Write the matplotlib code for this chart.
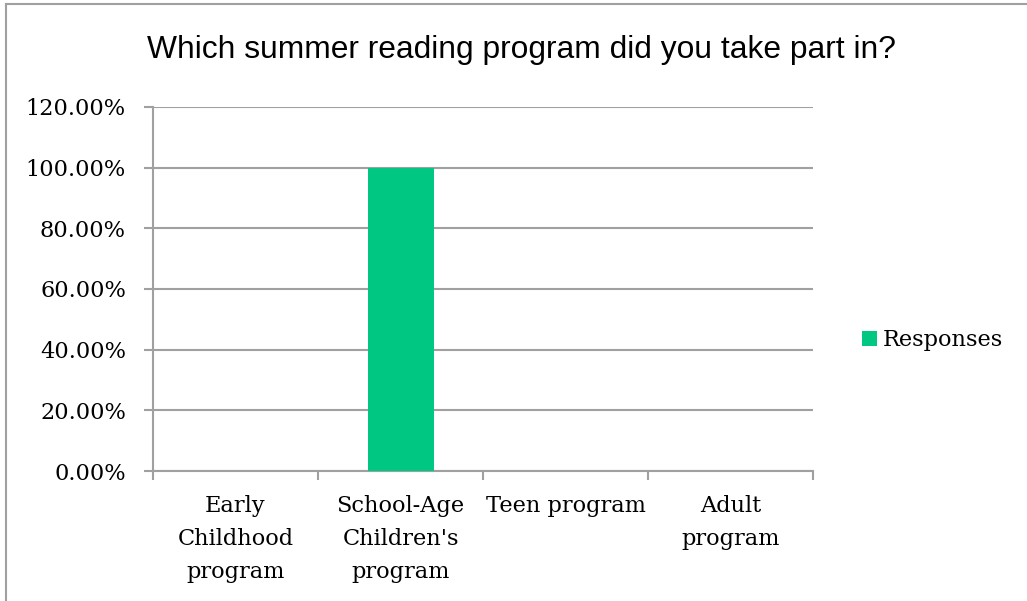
import matplotlib
matplotlib.use("Agg")
import matplotlib.pyplot as plt
from matplotlib.lines import Line2D
from matplotlib.patches import Patch
from matplotlib.ticker import FuncFormatter, FixedLocator

categories = ["Early\nChildhood\nprogram", "School-Age\nChildren's\nprogram",
              "Teen program", "Adult\nprogram"]
responses = [0.0, 1.0, 0.0, 0.0]
y_ticks = [0.0, 0.2, 0.4, 0.6, 0.8, 1.0, 1.2]
series_name = "Responses"
title = "Which summer reading program did you take part in?"

BAR = "#00C781"
GRID = "#A0A0A0"
SERIF = ["DejaVu Serif"]
SANS = ["Liberation Sans", "Arial", "DejaVu Sans"]
LABEL_SIZE = 16.2

fig = plt.figure(figsize=(10.27, 6.01), dpi=100)
ax = fig.add_axes([153 / 1027, 1 - 471 / 601, 660 / 1027, 364 / 601])

x = list(range(len(categories)))
ax.bar(x, responses, width=0.4, color=BAR, zorder=3)

ax.set_xlim(-0.5, len(categories) - 0.5)
ax.set_ylim(0, 1.2)
ax.set_yticks(y_ticks)
ax.yaxis.set_major_formatter(FuncFormatter(lambda v, p: f"{v * 100:.2f}%"))
ax.grid(axis="y", color=GRID, linewidth=1.5, zorder=0)

ax.set_xticks(x)
ax.set_xticklabels(categories, fontfamily=SERIF, fontsize=LABEL_SIZE, linespacing=1.65)
ax.xaxis.set_minor_locator(FixedLocator([i - 0.5 for i in range(len(categories) + 1)]))
ax.tick_params(axis="x", which="major", length=0, pad=17)
ax.tick_params(axis="x", which="minor", length=6.5, width=1.5, color=GRID)
ax.tick_params(axis="y", length=6.5, width=1.5, color=GRID, pad=13)
for lab in ax.get_yticklabels():
    lab.set_fontfamily(SERIF)
    lab.set_fontsize(LABEL_SIZE)

for side in ("top", "right"):
    ax.spines[side].set_visible(False)
for side in ("left", "bottom"):
    ax.spines[side].set_color(GRID)
    ax.spines[side].set_linewidth(1.5)

fig.text(521 / 1027, 1 - 50 / 601, title, ha="center", va="center",
         fontfamily=SANS, fontsize=22.9)

handle = Patch(facecolor=BAR, edgecolor="none")
fig.legend([handle], [series_name], loc="center left",
           bbox_to_anchor=(853 / 1027, 1 - 340 / 601), frameon=False,
           prop={"family": SERIF, "size": LABEL_SIZE}, handlelength=0.65,
           handleheight=0.65, handletextpad=0.25, borderaxespad=0)

# outer chart frame: top and left edges
fig.add_artist(Line2D([6 / 1027, 1], [1 - 4 / 601] * 2, color=GRID,
                      linewidth=1.5, transform=fig.transFigure))
fig.add_artist(Line2D([6 / 1027] * 2, [0, 1 - 4 / 601], color=GRID,
                      linewidth=1.5, transform=fig.transFigure))

fig.savefig("out.png", dpi=100)
